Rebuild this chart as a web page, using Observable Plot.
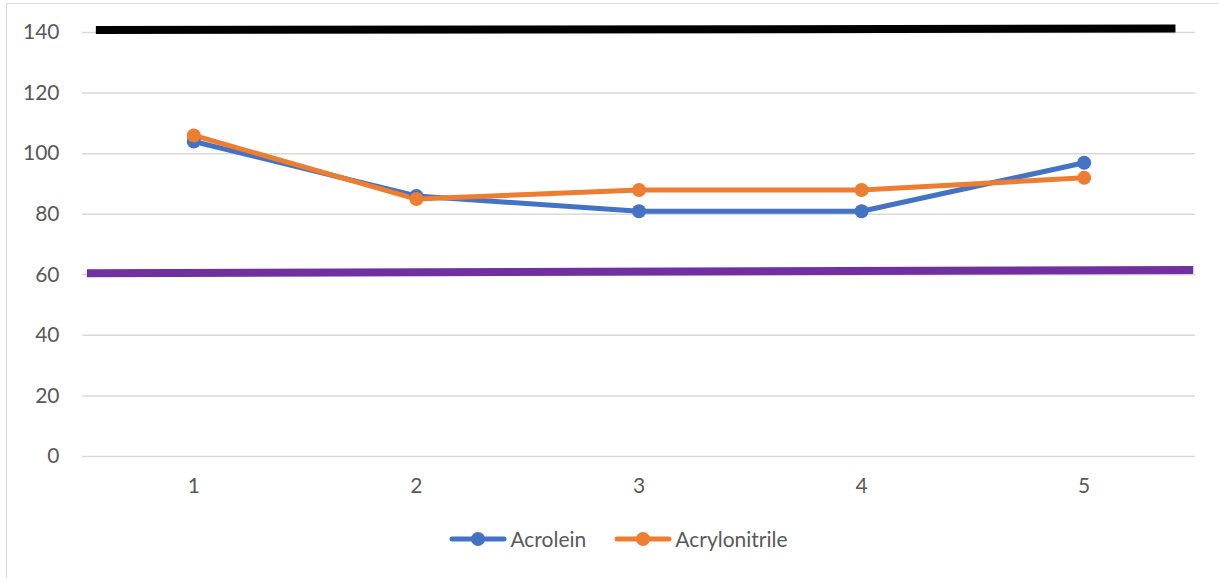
<!DOCTYPE html>
<html>
<head>
<meta charset="utf-8">
<script src="https://cdn.jsdelivr.net/npm/d3@7"></script>
<script src="https://cdn.jsdelivr.net/npm/@observablehq/plot@0.6"></script>
<style>
  html, body { margin: 0; padding: 0; background: #fff; }
  body { width: 1219px; height: 578px; position: relative; overflow: hidden; font-family: Lato, "Open Sans", sans-serif; }
  #frame { position: absolute; left: 6px; top: 3px; width: 1230px; height: 600px; border: 1.5px solid #d9d9d9; box-sizing: border-box; }
  #chart { position: absolute; left: 0; top: 0; }
  #legend { position: absolute; left: 0; top: 526px; width: 1219px; display: flex; justify-content: center; align-items: center; gap: 28px; padding-left: 18px; box-sizing: border-box; font-size: 21px; color: #595959; }
  .item { display: flex; align-items: center; gap: 3px; }
</style>
</head>
<body>
<div id="frame"></div>
<div id="chart"></div>
<div id="legend"></div>
<script>
const categories = [1, 2, 3, 4, 5];
const acrolein = [104, 86, 81, 81, 97];
const acrylonitrile = [106, 85, 88, 88, 92];
const seriesNames = ["Acrolein", "Acrylonitrile"];
const seriesColors = ["#4472C4", "#ED7D31"];
const yTicks = [0, 20, 40, 60, 80, 100, 120, 140];
// hand-drawn reference lines (x in category units, y in value units)
const upperLineX = [0.56, 5.41];
const upperLineY = [140.8, 141.3];
const lowerLineX = [0.52, 5.49];
const lowerLineY = [60.5, 61.6];

const rows = [];
categories.forEach((c, i) => {
  rows.push({series: seriesNames[0], x: c, y: acrolein[i]});
  rows.push({series: seriesNames[1], x: c, y: acrylonitrile[i]});
});
const upper = upperLineX.map((x, i) => ({x, y: upperLineY[i]}));
const lower = lowerLineX.map((x, i) => ({x, y: lowerLineY[i]}));

const chart = Plot.plot({
  width: 1219,
  height: 510,
  marginLeft: 82,
  marginRight: 24,
  marginTop: 32,
  marginBottom: 54,
  style: {fontFamily: "Lato, 'Open Sans', sans-serif", fontSize: "21px", color: "#595959", background: "transparent"},
  x: {domain: [0.5, 5.5], label: null},
  y: {domain: [0, 140], label: null},
  color: {domain: seriesNames, range: seriesColors},
  marks: [
    Plot.gridY(yTicks, {stroke: "#d9d9d9", strokeOpacity: 1, strokeWidth: 1.5}),
    Plot.axisX({ticks: categories, tickSize: 0, tickPadding: 22, tickFormat: d => String(d), label: null, fill: "#595959", fontSize: 21}),
    Plot.axisY({ticks: yTicks, tickSize: 0, tickPadding: 23, label: null, fill: "#595959", fontSize: 21}),
    Plot.line(upper, {x: "x", y: "y", stroke: "#000000", strokeWidth: 8, strokeLinecap: "butt"}),
    Plot.line(lower, {x: "x", y: "y", stroke: "#7030A0", strokeWidth: 8, strokeLinecap: "butt"}),
    Plot.line(rows, {x: "x", y: "y", z: "series", stroke: "series", strokeWidth: 5, strokeLinejoin: "round", strokeLinecap: "round"}),
    Plot.dot(rows, {x: "x", y: "y", fill: "series", r: 7})
  ]
});
document.getElementById("chart").appendChild(chart);

const legend = document.getElementById("legend");
seriesNames.forEach((name, i) => {
  const item = document.createElement("div");
  item.className = "item";
  item.innerHTML = `<svg width="58" height="16"><line x1="3" y1="8" x2="55" y2="8" stroke="${seriesColors[i]}" stroke-width="5" stroke-linecap="round"/><circle cx="29" cy="8" r="7" fill="${seriesColors[i]}"/></svg><span>${name}</span>`;
  legend.appendChild(item);
});
</script>
</body>
</html>
